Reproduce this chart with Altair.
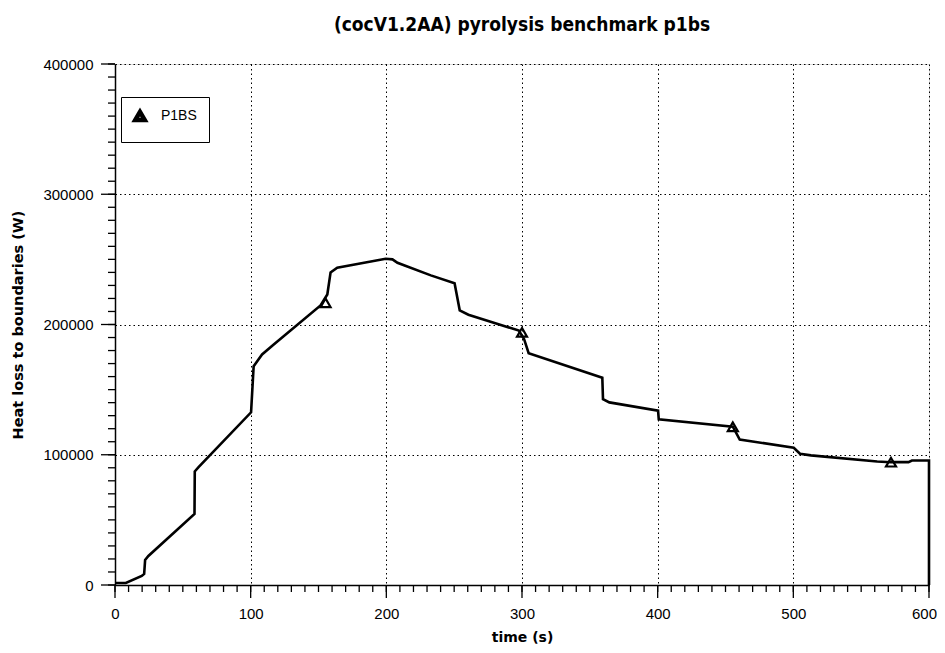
import altair as alt
import pandas as pd

# ---- data ----
time_s = [0, 8, 19.7, 21.5, 22.2, 24.6, 58.6, 58.8, 61.6, 100.3, 102.2, 108.4, 117,
          151.5, 156.5, 158.9, 163.8, 199.5, 204.5, 208.2, 232.8, 250.3, 254.1, 260.5,
          297.7, 301.5, 304.9, 359.2, 359.7, 364.4, 400.3, 400.8, 455.4, 460.5, 500.3,
          504.9, 513, 561.8, 572, 584.9, 587.4, 600, 600]
heat_w = [1500, 1500, 6900, 8500, 19200, 22300, 54600, 87200, 90500, 132600, 168000,
          177000, 184600, 214600, 223000, 240000, 243600, 250500, 250000, 247400, 237700,
          231600, 210900, 207500, 195300, 188900, 178000, 159100, 142700, 140200, 133900,
          127200, 121500, 111700, 105400, 100800, 99500, 94800, 94300, 94300, 95600,
          95600, 0]
marker_time = [155.2, 300, 455.4, 572]
marker_heat = [216700, 194000, 121500, 94300]
series_name = "P1BS"

x_major = list(range(0, 601, 100))
x_minor = list(range(0, 601, 10))
y_major = list(range(0, 400001, 100000))
y_minor = list(range(0, 400001, 10000))

W, H = 814, 521

line_df = pd.DataFrame({"i": range(len(time_s)), "t": time_s, "q": heat_w})
mark_df = pd.DataFrame({"t": marker_time, "q": marker_heat, "s": [series_name] * len(marker_time)})

FONT = "Liberation Sans, Arial, Helvetica"
FONT_B = "DejaVu Sans, Liberation Sans"
FONT_N = "Liberation Sans Narrow, DejaVu Sans Condensed, DejaVu Sans"

x_axis = alt.Axis(
    values=x_major, ticks=False, tickSize=0,
    labelOffset={"condition": {"test": "datum.value === 600", "value": -5}, "value": 0},
    grid=True, gridColor="black", gridDash=[1.5, 3], gridWidth=1,
    domainColor="black", domainWidth=1.5,
    labelFont=FONT, labelFontSize=15, labelColor="black", labelPadding=21,
    labelOverlap=False, labelFlush=False,
    title="time (s)", titleFont=FONT_B, titleFontSize=14, titleFontWeight="bold",
    titleColor="black", titlePadding=9,
)
y_axis = alt.Axis(
    values=y_major, format="d", ticks=False, tickSize=0,
    grid=True, gridColor="black", gridDash=[1.5, 3], gridWidth=1,
    domainColor="black", domainWidth=1.5,
    labelFont=FONT, labelFontSize=15, labelColor="black", labelPadding=22,
    labelOverlap=False, labelFlush=False,
    title="Heat loss to boundaries (W)", titleFont=FONT_B, titleFontSize=14.5,
    titleFontWeight="bold", titleColor="black", titlePadding=17,
)

xs = alt.Scale(domain=[0, 600], nice=False, zero=False)
ys = alt.Scale(domain=[0, 400000], nice=False)

line = alt.Chart(line_df).mark_line(color="black", strokeWidth=2.6).encode(
    x=alt.X("t:Q", scale=xs, axis=x_axis),
    y=alt.Y("q:Q", scale=ys, axis=y_axis),
    order=alt.Order("i:Q"),
)

# axis tick marks (outward), major long and minor short
def x_ticks(vals, length):
    return alt.Chart(pd.DataFrame({"v": vals})).mark_rule(color="black", strokeWidth=1.3).encode(
        x=alt.X("v:Q", scale=xs, axis=x_axis, title="time (s)"),
        y=alt.value(H), y2=alt.value(H + length),
    )

def y_ticks(vals, length):
    return alt.Chart(pd.DataFrame({"v": vals})).mark_rule(color="black", strokeWidth=1.3).encode(
        y=alt.Y("v:Q", scale=ys, axis=y_axis, title="Heat loss to boundaries (W)"),
        x=alt.value(0), x2=alt.value(-length),
    )

points = alt.Chart(mark_df).mark_point(shape="triangle-up", filled=False, size=100,
                                       strokeWidth=2.2, opacity=1).encode(
    x=alt.X("t:Q", scale=xs, axis=x_axis),
    y=alt.Y("q:Q", scale=ys, axis=y_axis),
    color=alt.Color("s:N", scale=alt.Scale(domain=[series_name], range=["black"]),
                    legend=alt.Legend(
                        title=None, orient="none", legendX=6, legendY=33,
                        symbolType="triangle-up", symbolSize=90, symbolStrokeWidth=4.5,
                        symbolFillColor="black", symbolStrokeColor="black",
                        labelFont=FONT, labelFontSize=14, labelColor="black",
                        strokeColor="black", fillColor="white", padding=12,
                        labelOffset=14, rowPadding=0,
                    )),
)

chart = alt.layer(
    line,
    x_ticks(x_minor, 7), x_ticks(x_major, 13),
    y_ticks(y_minor, 7), y_ticks(y_major, 14),
    points,
).properties(
    width=W, height=H,
    autosize=alt.AutoSizeParams(type="none"),
    padding={"left": 107, "top": 56, "right": 8, "bottom": 68},
    title=alt.TitleParams("(cocV1.2AA) pyrolysis benchmark p1bs", font=FONT_N,
                          fontSize=19, fontWeight="bold", color="black", offset=22,
                          anchor="middle"),
).configure_view(stroke="black", strokeWidth=1.5).configure(background="white")

chart.save("out.html", embed_options={"renderer": "svg", "actions": False})
